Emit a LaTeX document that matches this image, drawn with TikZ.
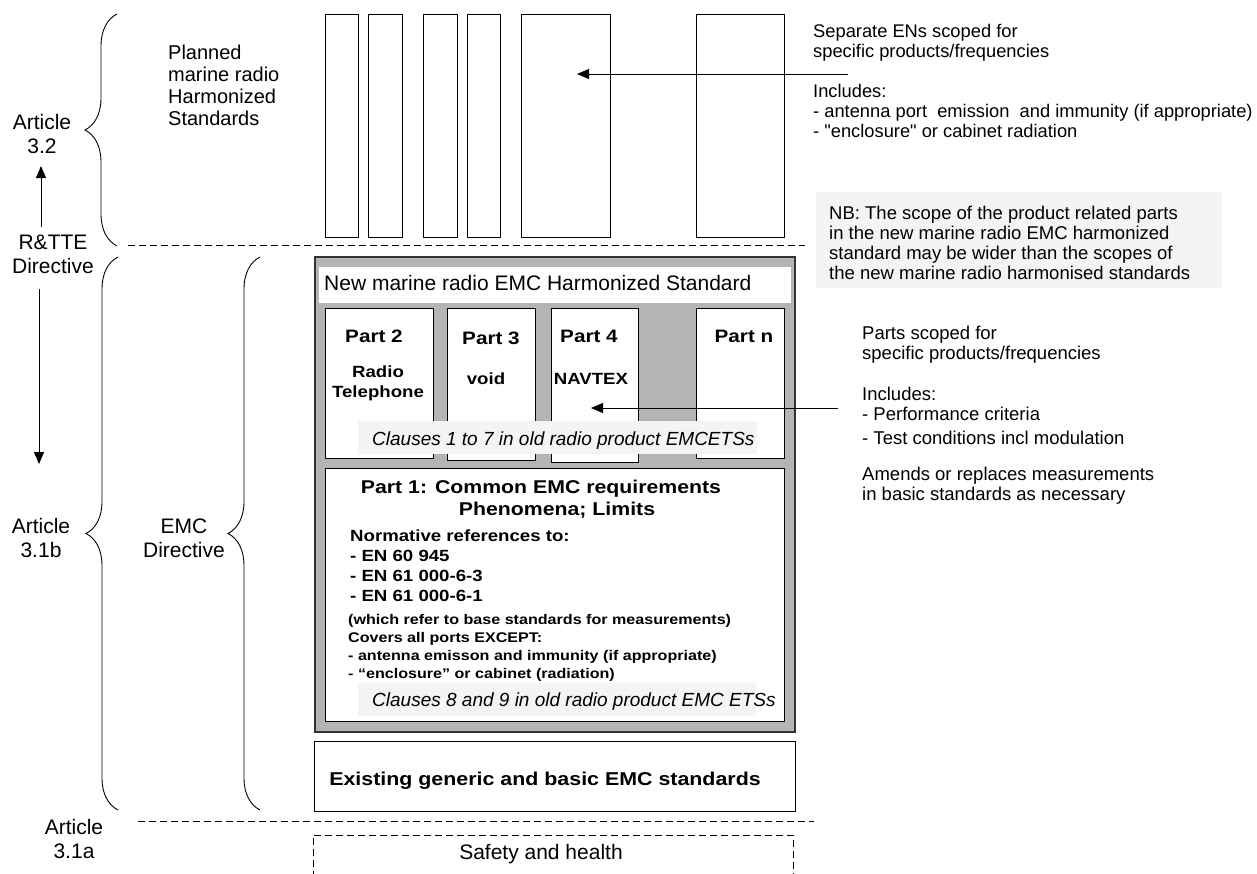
\documentclass[tikz,border=0pt]{standalone}
\usepackage{fontspec}
\setmainfont{Liberation Sans}[Ligatures=TeXOff,BoldFeatures={FakeStretch=1.15}]
\usetikzlibrary{positioning,arrows.meta,decorations.pathreplacing}

\definecolor{boxgray}{RGB}{180,180,180}
\definecolor{bandgray}{RGB}{244,244,244}
\definecolor{edgegray}{RGB}{50,50,50}
\newcommand{\fsz}[2]{\fontsize{#1}{#2}\selectfont}

\begin{document}
\begin{tikzpicture}[x=1pt,y=-1pt,>={Triangle[length=12pt,width=10pt]},
	box/.style={draw,line width=1pt,inner sep=0pt,anchor=north west},
	band/.style={fill=bandgray,inner sep=0pt,anchor=north west},
	txt/.style={inner sep=0pt,anchor=base west,align=left},
	ctxt/.style={inner sep=0pt,anchor=base,align=center},
	sepline/.style={dash pattern=on 7pt off 4pt,line width=0.9pt},
	bigbrace/.style={decorate,decoration={brace,amplitude=32pt,aspect=#1},line width=0.9pt}
	]

	\fill[white] (0,0) rectangle (1257,873);
	\useasboundingbox (0,0) rectangle (1257,873);

	% left hand labels (base = last line)
	\node[ctxt,font=\fsz{21}{23.5}] (art32) at (42,153) {Article\\3.2};
	\node[ctxt,font=\fsz{21}{23.5}] (rtte) at (53,273) {R\&TTE\\Directive};
	\node[ctxt,font=\fsz{21}{23.5}] (art31b) at (41,557) {Article\\3.1b};
	\node[ctxt,font=\fsz{21}{23.5}] (emcdir) at (184,557) {EMC\\Directive};
	\node[ctxt,font=\fsz{21}{23.5}] (art31a) at (74,858) {Article\\3.1a};

	\coordinate (upfrom) at (41,227);
	\coordinate (uptip) at (41,166);
	\draw[->,line width=0.9pt] (upfrom) -- (uptip);
	\coordinate (downfrom) at (39,289);
	\coordinate (downtip) at (39,464);
	\draw[->,line width=0.9pt] (downfrom) -- (downtip);

	\draw[bigbrace=0.5] (117,246) -- (117,14);
	\draw[bigbrace=0.5] (118,810) -- (118,257);
	\draw[bigbrace=0.5] (260,810) -- (260,257);

	\coordinate (sepAl) at (128,245);
	\coordinate (sepAr) at (805,245);
	\draw[sepline] (sepAl) -- (sepAr);
	\coordinate (sepBl) at (138,821);
	\coordinate (sepBr) at (814,821);
	\draw[sepline] (sepBl) -- (sepBr);

	% planned harmonized standards
	\node[txt,font=\fsz{20}{22}] (planned) at (168,125) {Planned\\marine radio\\Harmonized\\Standards};

	\node[box,minimum width=33pt,minimum height=223pt] (en1) at (325,14) {};
	\node[box,minimum width=34pt,minimum height=223pt] (en2) at (368,14) {};
	\node[box,minimum width=34pt,minimum height=223pt] (en3) at (423,14) {};
	\node[box,minimum width=33pt,minimum height=223pt] (en4) at (467,14) {};
	\node[box,minimum width=89pt,minimum height=223pt] (en5) at (521,14) {};
	\node[box,minimum width=88pt,minimum height=223pt] (en6) at (696,14) {};

	\node[txt,font=\fsz{18.3}{20}] (entext) at (813,57) {Separate ENs scoped for\\specific products/frequencies};
	\node[txt,font=\fsz{18.3}{20}] (enincl) at (813,137) {Includes:\\- antenna port\ \ emission\ \ and immunity (if appropriate)\\- "enclosure" or cabinet radiation};
	\coordinate (enfrom) at (848,74);
	\coordinate (entip) at (577,74);
	\draw[->,line width=0.9pt] (enfrom) -- (entip);

	\node[band,minimum width=406pt,minimum height=96pt] (nbbox) at (816,192) {};
	\node[txt,font=\fsz{18.5}{20}] (nbtext) at (829,279) {NB: The scope of the product related parts\\in the new marine radio EMC harmonized\\standard may be wider than the scopes of\\the new marine radio harmonised standards};

	% new marine radio EMC standard
	\node[box,fill=boxgray,draw=edgegray,line width=1.6pt,minimum width=480pt,minimum height=475pt] (newstd) at (314,256) {};
	\node[fill=white,inner sep=0pt,anchor=north west,minimum width=472pt,minimum height=36pt] (newtitle) at (319,267) {};
	\node[txt,font=\fsz{21}{24}] (newtitletext) at (324,290) {New marine radio EMC Harmonized Standard};

	\node[box,fill=white,minimum width=108pt,minimum height=150pt] (p2) at (325,308) {};
	\node[box,fill=white,minimum width=88pt,minimum height=152pt] (p3) at (447,308) {};
	\node[box,fill=white,minimum width=87pt,minimum height=154pt] (p4) at (551,308) {};
	\node[box,fill=white,minimum width=88pt,minimum height=150pt] (pn) at (696,308) {};

	\node[ctxt,font=\bfseries\fsz{18}{20}] (p2head) at (374,342) {Part 2};
	\node[ctxt,font=\bfseries\fsz{18}{20}] (p3head) at (491,344) {Part 3};
	\node[ctxt,font=\bfseries\fsz{18}{20}] (p4head) at (589,342) {Part 4};
	\node[ctxt,font=\bfseries\fsz{18}{20}] (pnhead) at (744,342) {Part n};
	\node[ctxt,font=\bfseries\fsz{16.2}{20}] (p2sub) at (378,397) {Radio\\Telephone};
	\node[ctxt,font=\bfseries\fsz{16.2}{20}] (p3sub) at (486,384) {void};
	\node[ctxt,font=\bfseries\fsz{16.2}{20}] (p4sub) at (591,384) {NAVTEX};

	\node[band,minimum width=399pt,minimum height=33pt] (clause17) at (358,421) {};
	\node[txt,font=\itshape\fsz{19}{22}] (clause17text) at (372,445) {Clauses 1 to 7 in old radio product EMCETSs};

	\node[txt,font=\fsz{18.5}{20}] (partstext) at (862,359) {Parts scoped for\\specific products/frequencies};
	\node[txt,font=\fsz{18.5}{20}] (partsincl) at (862,444) {Includes:\\- Performance criteria\\[4pt]- Test conditions incl modulation};
	\node[txt,font=\fsz{18.5}{20}] (amends) at (862,500) {Amends or replaces measurements\\in basic standards as necessary};
	\coordinate (partsfrom) at (838,408);
	\coordinate (partstip) at (591,408);
	\draw[->,line width=0.9pt] (partsfrom) -- (partstip);

	% part 1
	\node[box,fill=white,minimum width=459pt,minimum height=253pt] (p1) at (325,468) {};
	\node[ctxt,font=\bfseries\fsz{18.5}{22}] (p1head) at (541,493) {Part 1: Common EMC requirements};
	\node[ctxt,font=\bfseries\fsz{18.5}{22}] (p1sub) at (557,515) {Phenomena; Limits};
	\node[txt,font=\bfseries\fsz{16.2}{20}] (p1refs) at (350,601) {Normative references to:\\- EN 60 945\\- EN 61 000-6-3\\- EN 61 000-6-1};
	\node[txt,font=\bfseries\fsz{14}{18}] (p1ports) at (348,678.5) {(which refer to base standards for measurements)\\Covers all ports EXCEPT:\\- antenna emisson and immunity (if appropriate)\\- “enclosure” or cabinet (radiation)};

	\node[band,minimum width=398pt,minimum height=33pt] (clause89) at (358,683) {};
	\node[txt,font=\itshape\fsz{19}{22}] (clause89text) at (372,706) {Clauses 8 and 9 in old radio product EMC ETSs};

	% existing and safety
	\node[box,minimum width=481pt,minimum height=70pt] (existing) at (314,741) {};
	\node[ctxt,font=\bfseries\fsz{18.6}{22}] (existingtext) at (545,785) {Existing generic and basic EMC standards};

	\node[box,sepline,minimum width=480pt,minimum height=60pt] (safety) at (313,835) {};
	\node[ctxt,font=\fsz{21}{24}] (safetytext) at (541,859) {Safety and health};

\end{tikzpicture}
\end{document}
